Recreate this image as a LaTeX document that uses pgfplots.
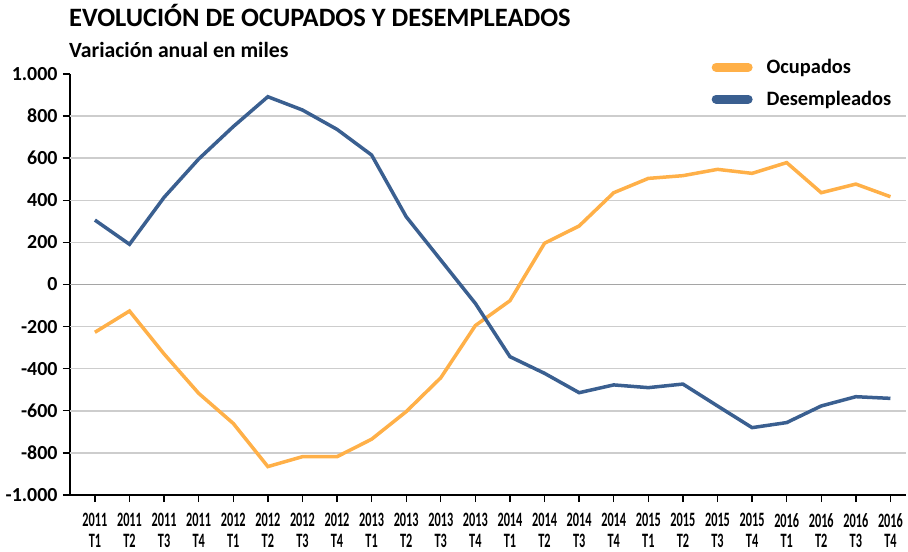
\documentclass[border=0pt]{standalone}
\usepackage{fontspec}
\setmainfont{Carlito}
\newfontfamily\xlabfont[FakeStretch=0.6]{Carlito}
\usepackage{pgfplots}
\pgfplotsset{compat=1.18}
\definecolor{ocup}{RGB}{255,176,72}
\definecolor{desemp}{RGB}{58,95,144}
\definecolor{gridc}{RGB}{205,205,205}
\definecolor{zeroc}{RGB}{165,165,165}
\begin{document}
\begin{tikzpicture}
\path[use as bounding box] (0,0) rectangle (908bp,552bp);
\node[anchor=base west, inner sep=0pt, font=\bfseries\fontsize{26.6}{30}\selectfont] at (69bp,525bp) {EVOLUCIÓN DE OCUPADOS Y DESEMPLEADOS};
\node[anchor=base west, inner sep=0pt, font=\bfseries\fontsize{21.8}{24}\selectfont] at (69bp,494bp) {Variación anual en miles};
\begin{axis}[
  at={(70bp,57bp)}, anchor=south west,
  scale only axis, width=836bp, height=421bp,
  xmin=-0.72, xmax=23.45, ymin=-1000, ymax=1000,
  axis x line=bottom, axis y line=left,
  axis line style={line width=1.6bp, black, -},
  tick align=outside, major tick length=7bp,
  tick style={black, line width=1.4bp},
  xtick={0,...,23},
  xticklabels={{2011\\T1},{2011\\T2},{2011\\T3},{2011\\T4},{2012\\T1},{2012\\T2},{2012\\T3},{2012\\T4},{2013\\T1},{2013\\T2},{2013\\T3},{2013\\T4},{2014\\T1},{2014\\T2},{2014\\T3},{2014\\T4},{2015\\T1},{2015\\T2},{2015\\T3},{2015\\T4},{2016\\T1},{2016\\T2},{2016\\T3},{2016\\T4}},
  xticklabel style={align=center, font=\xlabfont\bfseries\fontsize{20.5}{20.5}\selectfont, yshift=-8bp},
  ytick={-1000,-800,...,1000},
  yticklabels={-1.000,-800,-600,-400,-200,0,200,400,600,800,1.000},
  yticklabel style={font=\bfseries\fontsize{20}{22}\selectfont, xshift=-2bp},
  extra y ticks={-800,-600,-400,-200,200,400,600,800},
  extra y tick labels={},
  extra y tick style={grid=major, major tick length=7bp, grid style={gridc, line width=1.5bp}},
  legend style={at={(0.985,1.04)}, anchor=north east, draw=none, fill=none,
    font=\bfseries\fontsize{20.5}{24}\selectfont, row sep=12bp, inner sep=0pt,
    /tikz/every even column/.append style={column sep=0bp}},
  legend cell align=left,
  legend image code/.code={\draw[#1, line width=9bp, line cap=round] (4bp,0bp) -- (36bp,0bp);},
  clip=false,
]
\addplot[zeroc, line width=1.8bp, forget plot] coordinates {(-0.72,0) (23.45,0)};
\addplot[ocup, line width=3.5bp] coordinates {
(0,-227) (1,-126) (2,-330) (3,-517) (4,-660) (5,-865) (6,-818) (7,-818)
(8,-735) (9,-604) (10,-443) (11,-195) (12,-77) (13,196) (14,278) (15,436)
(16,504) (17,517) (18,547) (19,528) (20,579) (21,436) (22,477) (23,417)};
\addlegendentry{\hspace{12bp}Ocupados}
\addplot[desemp, line width=3.5bp] coordinates {
(0,306) (1,191) (2,414) (3,596) (4,750) (5,892) (6,829) (7,737)
(8,615) (9,322) (10,116) (11,-90) (12,-343) (13,-422) (14,-514) (15,-477)
(16,-490) (17,-473) (18,-577) (19,-680) (20,-656) (21,-577) (22,-533) (23,-541)};
\addlegendentry{\hspace{12bp}Desempleados}
\end{axis}
\end{tikzpicture}
\end{document}
